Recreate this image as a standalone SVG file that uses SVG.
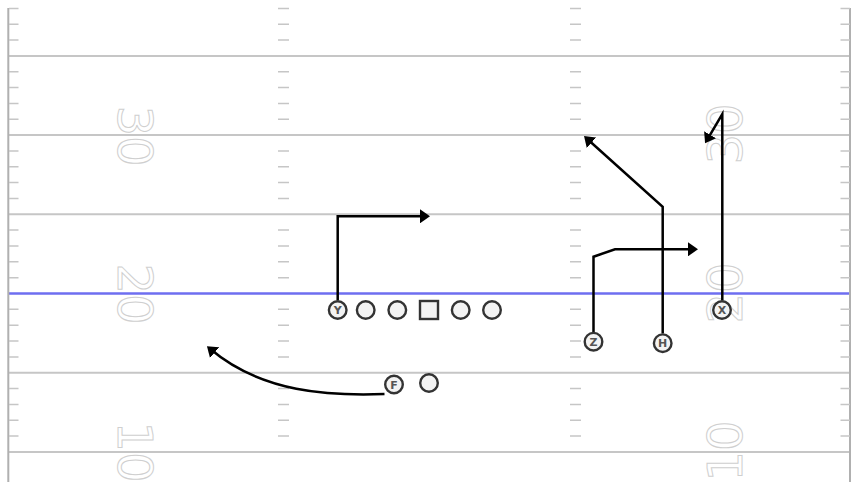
<svg xmlns="http://www.w3.org/2000/svg" width="863" height="493" viewBox="0 0 863 493">
<defs>
<style>
.yard{stroke:#c6c6c6;stroke-width:2;fill:none}
.side{stroke:#b0b0b0;stroke-width:2;fill:none}
.tick{stroke:#c6c6c6;stroke-width:1.5;fill:none}
.los{stroke:#6e6ef0;stroke-width:2.5;fill:none}
.num{font-family:"DejaVu Sans",sans-serif;font-size:48px;fill:#ffffff;stroke:#cfcfcf;stroke-width:1;text-anchor:middle}
.pl{fill:#f3f3f3;stroke:#333333;stroke-width:2.4}
.lbl{font-family:"DejaVu Sans",sans-serif;font-size:11px;font-weight:bold;fill:#555555;text-anchor:middle}
.route{stroke:#000000;stroke-width:2.5;fill:none;stroke-linejoin:miter}
</style>
<marker id="arr" markerUnits="userSpaceOnUse" markerWidth="11" markerHeight="14" refX="6" refY="7" orient="auto">
<path d="M0,0 L10,7 L0,14 Z" fill="#000000"/>
</marker>
</defs>
<rect x="0" y="0" width="863" height="493" fill="#ffffff"/>
<g id="field">
<path class="yard" d="M8,55.9H850M8,135.1H850M8,214.3H850M8,372.7H850M8,451.9H850"/>
<path class="los" d="M8,293.5H850"/>
<path class="side" d="M8.3,8V482M850,8V482"/>
<path class="tick" d="M9,8.4h9.5M9,24.2h9.5M9,40.1h9.5M9,71.7h9.5M9,87.6h9.5M9,103.4h9.5M9,119.3h9.5M9,150.9h9.5M9,166.8h9.5M9,182.6h9.5M9,198.5h9.5M9,230.1h9.5M9,246h9.5M9,261.8h9.5M9,277.7h9.5M9,309.3h9.5M9,325.2h9.5M9,341h9.5M9,356.9h9.5M9,388.5h9.5M9,404.4h9.5M9,420.2h9.5M9,436.1h9.5"/>
<path class="tick" d="M278,8.4h11M278,24.2h11M278,40.1h11M278,71.7h11M278,87.6h11M278,103.4h11M278,119.3h11M278,150.9h11M278,166.8h11M278,182.6h11M278,198.5h11M278,230.1h11M278,246h11M278,261.8h11M278,277.7h11M278,309.3h11M278,325.2h11M278,341h11M278,356.9h11M278,388.5h11M278,404.4h11M278,420.2h11M278,436.1h11"/>
<path class="tick" d="M570,8.4h11M570,24.2h11M570,40.1h11M570,71.7h11M570,87.6h11M570,103.4h11M570,119.3h11M570,150.9h11M570,166.8h11M570,182.6h11M570,198.5h11M570,230.1h11M570,246h11M570,261.8h11M570,277.7h11M570,309.3h11M570,325.2h11M570,341h11M570,356.9h11M570,388.5h11M570,404.4h11M570,420.2h11M570,436.1h11"/>
<path class="tick" d="M840.5,8.4h9.5M840.5,24.2h9.5M840.5,40.1h9.5M840.5,71.7h9.5M840.5,87.6h9.5M840.5,103.4h9.5M840.5,119.3h9.5M840.5,150.9h9.5M840.5,166.8h9.5M840.5,182.6h9.5M840.5,198.5h9.5M840.5,230.1h9.5M840.5,246h9.5M840.5,261.8h9.5M840.5,277.7h9.5M840.5,309.3h9.5M840.5,325.2h9.5M840.5,341h9.5M840.5,356.9h9.5M840.5,388.5h9.5M840.5,404.4h9.5M840.5,420.2h9.5M840.5,436.1h9.5"/>
<g transform="translate(135.5,136) rotate(90)"><text class="num" x="0" y="17.5">30</text></g>
<g transform="translate(135.5,294) rotate(90)"><text class="num" x="0" y="17.5">20</text></g>
<g transform="translate(135.5,452) rotate(90)"><text class="num" x="0" y="17.5">10</text></g>
<g transform="translate(724,134) rotate(-90)"><text class="num" x="0" y="17.5">30</text></g>
<g transform="translate(724,293) rotate(-90)"><text class="num" x="0" y="17.5">20</text></g>
<g transform="translate(724,451) rotate(-90)"><text class="num" x="0" y="17.5">10</text></g>
</g>
<g id="connectors">
<path class="route" marker-end="url(#arr)" d="M337.7,300.5V216.3H426"/>
<path class="route" marker-end="url(#arr)" d="M593.5,332.5V256.7L615,249.3H694"/>
<path class="route" marker-end="url(#arr)" d="M662.7,333.5V206.7L587,138.7"/>
<path class="route" marker-end="url(#arr)" d="M722.3,300.5V114L707.1,139.9"/>
<path class="route" marker-end="url(#arr)" d="M384.5,394 C330,396 262,393 210,348.8"/>
</g>
<g id="player-Y"><circle class="pl" cx="337.7" cy="310" r="8.8"/><text class="lbl" x="337.7" y="314">Y</text></g>
<g id="player-LT"><circle class="pl" cx="365.7" cy="310" r="8.8"/></g>
<g id="player-LG"><circle class="pl" cx="397.3" cy="310" r="8.8"/></g>
<g id="player-C"><rect class="pl" x="420" y="301" width="18" height="18"/></g>
<g id="player-RG"><circle class="pl" cx="460.7" cy="310" r="8.8"/></g>
<g id="player-RT"><circle class="pl" cx="492" cy="310" r="8.8"/></g>
<g id="player-F"><circle class="pl" cx="394" cy="384.5" r="8.8"/><text class="lbl" x="394" y="388.5">F</text></g>
<g id="player-QB"><circle class="pl" cx="429" cy="383" r="8.8"/></g>
<g id="player-Z"><circle class="pl" cx="593.5" cy="341.7" r="8.8"/><text class="lbl" x="593.5" y="345.7">Z</text></g>
<g id="player-H"><circle class="pl" cx="662.7" cy="343.2" r="8.8"/><text class="lbl" x="662.7" y="347.2">H</text></g>
<g id="player-X"><circle class="pl" cx="722" cy="310" r="8.8"/><text class="lbl" x="722" y="314">X</text></g>
</svg>
